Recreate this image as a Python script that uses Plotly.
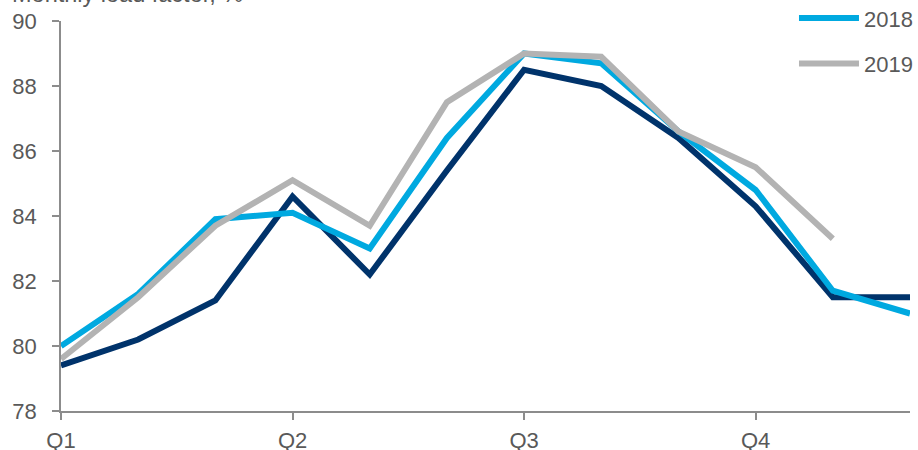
import plotly.graph_objects as go

months = list(range(12))
tick_vals = [0, 3, 6, 9]
tick_text = ["Q1", "Q2", "Q3", "Q4"]

y2017 = [79.4, 80.2, 81.4, 84.6, 82.2, 85.4, 88.5, 88.0, 86.4, 84.3, 81.5, 81.5]
y2018 = [80.0, 81.6, 83.9, 84.1, 83.0, 86.4, 89.0, 88.7, 86.6, 84.8, 81.7, 81.0]
y2019 = [79.6, 81.5, 83.7, 85.1, 83.7, 87.5, 89.0, 88.9, 86.6, 85.5, 83.3]

fig = go.Figure()
fig.add_trace(go.Scatter(x=months, y=y2017, mode="lines", name="2017",
                         line=dict(color="#00336b", width=6), showlegend=False))
fig.add_trace(go.Scatter(x=months, y=y2018, mode="lines", name="2018", legendgroup="a",
                         line=dict(color="#00a9e0", width=6)))
fig.add_trace(go.Scatter(x=months[:len(y2019)], y=y2019, mode="lines", name="2019", legendgroup="b",
                         line=dict(color="#b3b3b3", width=6)))

axis_color = "#8c8c8c"
font_color = "#595959"
fs = 22
fig.update_layout(
    width=918, height=450,
    margin=dict(l=61, r=8, t=21, b=39, autoexpand=False),
    plot_bgcolor="white", paper_bgcolor="white",
    font=dict(family="Liberation Sans, Arial, sans-serif", size=fs, color=font_color),
    xaxis=dict(range=[0, 11], tickvals=tick_vals, ticktext=tick_text, automargin=False,
               showgrid=False, zeroline=False, showline=True, linecolor=axis_color, linewidth=1.5,
               ticks="outside", ticklen=7, tickcolor=axis_color, tickwidth=1.5,
               ticklabelstandoff=2),
    yaxis=dict(range=[78, 90], dtick=2, showgrid=False, zeroline=False, automargin=False,
               showline=True, linecolor=axis_color, linewidth=1.5,
               ticks="outside", ticklen=7, tickcolor=axis_color, tickwidth=1.5,
               ticklabelstandoff=11),
    legend=dict(x=1.0094, y=1.061, xanchor="right", yanchor="top",
                bgcolor="rgba(0,0,0,0)", tracegroupgap=14, itemwidth=60,
                font=dict(size=fs, color=font_color)),
    annotations=[dict(text="Monthly load factor, %", xref="paper", yref="paper",
                      x=-0.060, y=1, xanchor="left", yanchor="bottom", yshift=12,
                      showarrow=False, font=dict(size=23.5, color=font_color))],
)

fig.write_html("out.html")
